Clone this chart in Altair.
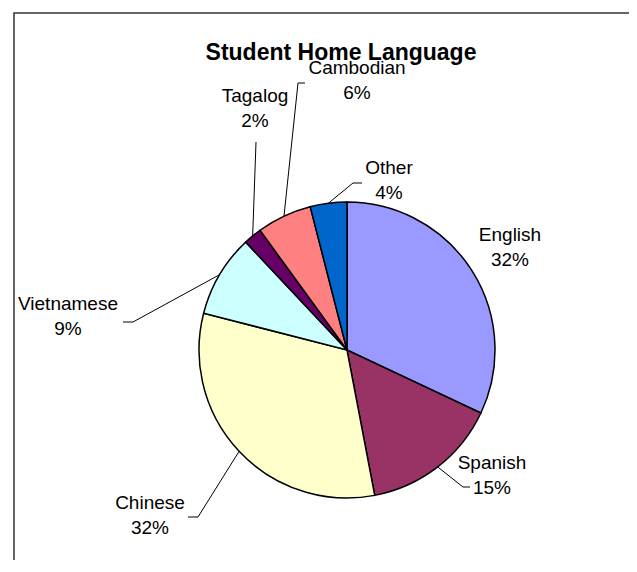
import altair as alt
import pandas as pd
import numpy as np

# ---- data ----
languages = ["English", "Spanish", "Chinese", "Vietnamese", "Tagalog", "Cambodian", "Other"]
percents = [32, 15, 32, 9, 2, 6, 4]
colors = ["#9999FF", "#993366", "#FFFFCC", "#CCFFFF", "#660066", "#FF8080", "#0066CC"]
title_text = "Student Home Language"

# ---- layout (pixels) ----
W, H = 621, 552
CX, CY, R = 339, 342, 148
# centre of each two-line label, offset from pie centre
label_off = [(163, -103), (145, 125), (-197, 165), (-279, -34), (-92, -242), (10, -270), (42, -170)]
# leader line bend / end points, offset from pie centre (None = no leader)
leader_bend = [None, (116, 137), (-149, 167), (-214, -28), (-91, -208), (-49, -267), (6, -167)]
leader_end = [None, (123, 137), (-159, 167), (-224, -28), (-91, -208), (-42, -267), (15, -167)]
title_off = (-6, -297)

pie_df = pd.DataFrame({"lang": languages, "pct": percents, "idx": range(len(languages))})

total = sum(percents)
cum = np.cumsum([0] + percents)
lab_rows, line_rows = [], []
for i, lang in enumerate(languages):
    mid = (cum[i] + percents[i] / 2) / total * 2 * np.pi
    sx, sy = CX + R * np.sin(mid), CY - R * np.cos(mid)
    ox, oy = label_off[i]
    lab_rows.append({"lang": lang, "name": lang, "pct": f"{percents[i]}%",
                     "x": CX + ox, "y1": CY + oy - 12.5, "y2": CY + oy + 12.5})
    if leader_bend[i] is not None:
        pts = [(sx, sy), (CX + leader_bend[i][0], CY + leader_bend[i][1]),
               (CX + leader_end[i][0], CY + leader_end[i][1])]
        for k, (px, py) in enumerate(pts):
            line_rows.append({"lang": lang, "k": k, "x": px, "y": py})
lab_df = pd.DataFrame(lab_rows)
line_df = pd.DataFrame(line_rows)

frame = alt.Chart(pd.DataFrame({"a": [0]})).mark_rect(
    fillOpacity=0, stroke="#333333", strokeWidth=1.5
).encode(x=alt.value(6), y=alt.value(5), x2=alt.value(W + 50), y2=alt.value(H + 50))

pie = alt.Chart(pie_df).mark_arc(outerRadius=R, stroke="black", strokeWidth=1.5).encode(
    theta=alt.Theta("pct:Q", stack=True),
    color=alt.Color("lang:N", scale=alt.Scale(domain=languages, range=colors), legend=None),
    order=alt.Order("idx:Q"),
    x=alt.value(CX), y=alt.value(CY),
)

leaders = alt.Chart(line_df).mark_line(color="black", strokeWidth=1).encode(
    x=alt.X("x:Q", scale=None), y=alt.Y("y:Q", scale=None),
    detail="lang:N", order="k:Q",
)

txt_kw = dict(font="Liberation Sans", fontSize=19, color="black", align="center", baseline="middle")
names = alt.Chart(lab_df).mark_text(**txt_kw).encode(
    x=alt.X("x:Q", scale=None), y=alt.Y("y1:Q", scale=None), text="name:N")
pcts = alt.Chart(lab_df).mark_text(**txt_kw).encode(
    x=alt.X("x:Q", scale=None), y=alt.Y("y2:Q", scale=None), text="pct:N")

title = alt.Chart(pd.DataFrame({"t": [title_text]})).mark_text(
    font="Liberation Sans", fontSize=23, fontWeight="bold", color="black",
    align="center", baseline="middle"
).encode(x=alt.value(CX + title_off[0]), y=alt.value(CY + title_off[1]), text="t:N")

chart = alt.layer(frame, pie, leaders, names, pcts, title).properties(
    width=W, height=H, padding=0, autosize=alt.AutoSizeParams(type="none"),
    background="white",
).configure_view(strokeWidth=0)

chart.save("out.html", embed_options={"renderer": "svg", "actions": False})
